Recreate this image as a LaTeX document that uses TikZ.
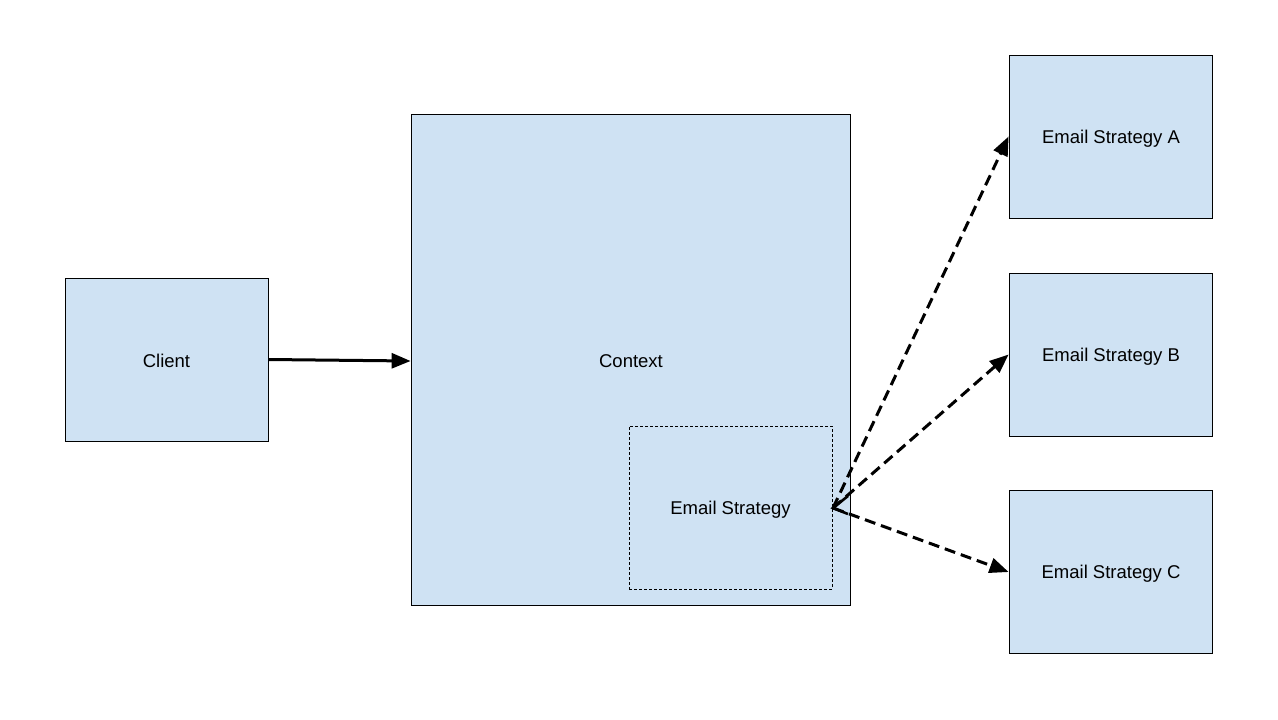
\documentclass[tikz,border=0pt]{standalone}
\usepackage{fontspec}
\setmainfont{Liberation Sans}
\usetikzlibrary{arrows.meta}
\definecolor{boxfill}{HTML}{CFE2F3}
\begin{document}
\begin{tikzpicture}[x=1pt,y=-1pt,
  txt/.style={font=\fontsize{18.5}{22}\selectfont},
  box/.style={draw=black,fill=boxfill,line width=0.8pt,minimum width=203pt,minimum height=163pt,inner sep=0pt,txt},
  inner/.style={box,dash pattern=on 3pt off 2pt},
  conn/.style={line width=3pt,-{Triangle[length=19pt,width=15pt]}},
  dconn/.style={conn,dash pattern=on 11pt off 6pt},
  barb/.style={line width=2.6pt,line cap=butt,line join=miter}]
\useasboundingbox (0,0) rectangle (1278,720);
\fill[white] (0,0) rectangle (1278,720);
\node[box] (client) at (166.5,359.5) {};
\node[txt] (clientlabel) at (166.5,361) {Client};
\node[box,minimum width=439pt,minimum height=491pt] (context) at (630.5,359.5) {};
\node[txt] (ctxlabel) at (631,361) {Context};
\node[inner] (es) at (730.5,507.5) {};
\node[txt] (eslabel) at (730.5,510) {Email Strategy};
\node[box] (a) at (1110.5,136.5) {};
\node[txt] (alabel) at (1111,138.5) {Email Strategy A};
\node[box] (b) at (1110.5,354.5) {};
\node[txt] (blabel) at (1111,356.5) {Email Strategy B};
\node[box] (c) at (1110.5,572) {};
\node[txt] (clabel) at (1111,574) {Email Strategy C};
\draw[conn] (client.east) -- (context.west |- 0,361);
\coordinate (esr) at (833,508);
\draw[dconn] (esr) -- (a.west);
\draw[dconn] (esr) -- (b.west);
\draw[dconn] (esr) -- (c.west);
\draw[barb] ([shift={(15,-12)}]esr) -- (esr) -- ([shift={(15,6)}]esr);
\end{tikzpicture}
\end{document}
